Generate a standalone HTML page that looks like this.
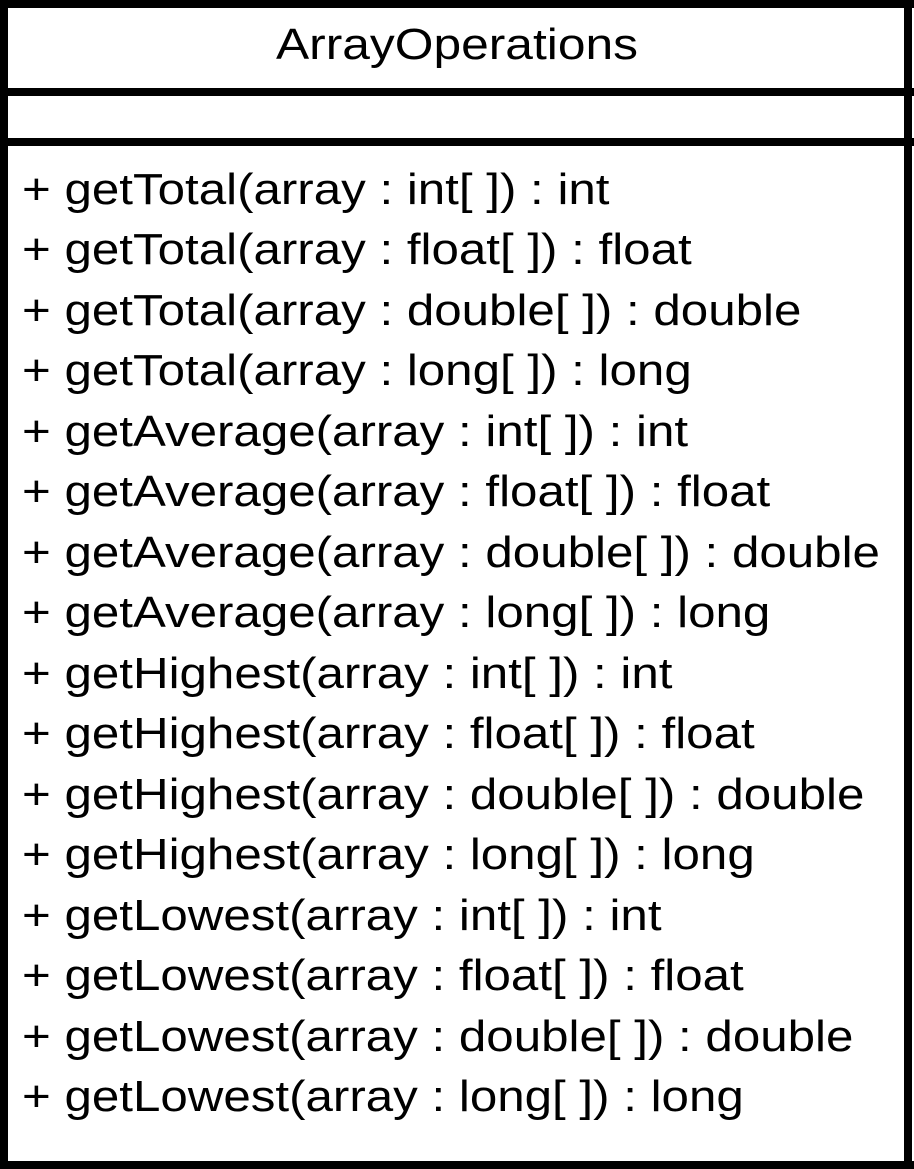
<!DOCTYPE html>
<html><head><style>
html,body{margin:0;padding:0;background:#fff;}
body{width:914px;height:1169px;position:relative;overflow:hidden;font-family:"Liberation Sans",Arial,sans-serif;color:#000;}
.b{position:absolute;background:#000;}
.t{position:absolute;left:0;width:914px;text-align:center;font-size:44px;top:20px;line-height:50px;transform:scaleX(1.13);transform-origin:457px 0;}
.r{position:absolute;left:22px;font-size:44px;line-height:50px;white-space:nowrap;transform:scaleX(1.12);transform-origin:0 0;}
</style></head><body>
<div class="b" style="left:0;top:0;width:914px;height:8px"></div>
<div class="b" style="left:0;top:1161px;width:914px;height:8px"></div>
<div class="b" style="left:0;top:0;width:8px;height:1169px"></div>
<div class="b" style="left:904px;top:0;width:8px;height:1169px"></div>
<div class="b" style="left:0;top:88px;width:914px;height:8px"></div>
<div class="b" style="left:0;top:138px;width:914px;height:8px"></div>
<div class="t">ArrayOperations</div>
<div class="r" style="top:165px">+ getTotal(array : int[ ]) : int</div>
<div class="r" style="top:225px">+ getTotal(array : float[ ]) : float</div>
<div class="r" style="top:286px">+ getTotal(array : double[ ]) : double</div>
<div class="r" style="top:346px">+ getTotal(array : long[ ]) : long</div>
<div class="r" style="top:407px">+ getAverage(array : int[ ]) : int</div>
<div class="r" style="top:467px">+ getAverage(array : float[ ]) : float</div>
<div class="r" style="top:528px">+ getAverage(array : double[ ]) : double</div>
<div class="r" style="top:588px">+ getAverage(array : long[ ]) : long</div>
<div class="r" style="top:649px">+ getHighest(array : int[ ]) : int</div>
<div class="r" style="top:709px">+ getHighest(array : float[ ]) : float</div>
<div class="r" style="top:770px">+ getHighest(array : double[ ]) : double</div>
<div class="r" style="top:830px">+ getHighest(array : long[ ]) : long</div>
<div class="r" style="top:891px">+ getLowest(array : int[ ]) : int</div>
<div class="r" style="top:951px">+ getLowest(array : float[ ]) : float</div>
<div class="r" style="top:1012px">+ getLowest(array : double[ ]) : double</div>
<div class="r" style="top:1072px">+ getLowest(array : long[ ]) : long</div>
</body></html>
